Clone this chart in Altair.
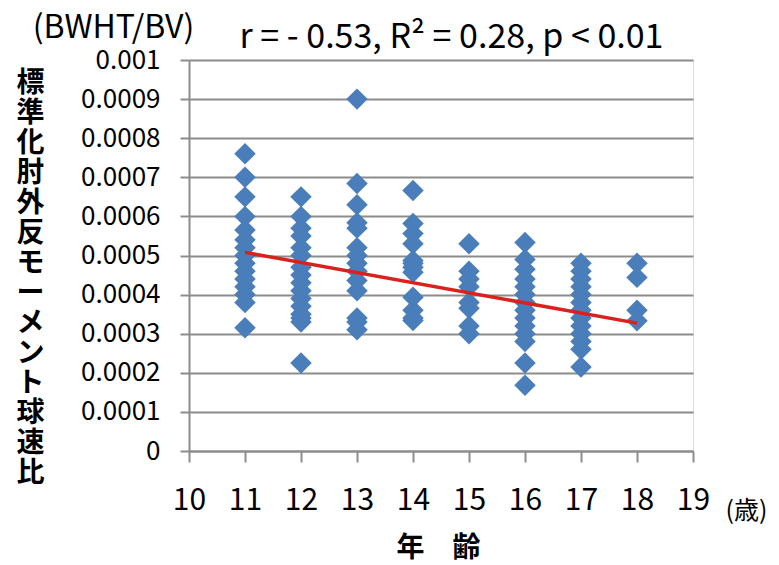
import altair as alt
import pandas as pd

# ---- data ----
age_11 = [0.00076, 0.00070, 0.00065, 0.00060, 0.000565, 0.00054, 0.00052, 0.00050, 0.00048,
          0.00046, 0.00044, 0.00042, 0.00040, 0.00038, 0.000315]
age_12 = [0.00065, 0.00060, 0.00057, 0.00055, 0.00052, 0.00050, 0.00047, 0.00045, 0.00043,
          0.00041, 0.00039, 0.00037, 0.00035, 0.00034, 0.00033, 0.000225]
age_13 = [0.00090, 0.000684, 0.00063, 0.000584, 0.00057, 0.00052, 0.00050, 0.00048, 0.00046,
          0.000436, 0.00041, 0.00034, 0.00033, 0.00031]
age_14 = [0.000666, 0.000582, 0.000556, 0.00053, 0.000487, 0.00048, 0.00047, 0.000457,
          0.000393, 0.00036, 0.00034, 0.000334]
age_15 = [0.00053, 0.00046, 0.00044, 0.00042, 0.00038, 0.000365, 0.00032, 0.00030]
age_16 = [0.000533, 0.00049, 0.000465, 0.00044, 0.00042, 0.00040, 0.00038, 0.00036, 0.00034,
          0.00032, 0.00030, 0.00028, 0.000225, 0.000168]
age_17 = [0.00048, 0.00046, 0.00044, 0.00042, 0.00040, 0.00038, 0.00036, 0.00034, 0.00032,
          0.00030, 0.00028, 0.00026, 0.000215]
age_18 = [0.00048, 0.000444, 0.00036, 0.000333]

ages = [11, 12, 13, 14, 15, 16, 17, 18]
columns = [age_11, age_12, age_13, age_14, age_15, age_16, age_17, age_18]

trend_x = [11, 18]
trend_y = [0.000508, 0.000327]

x_ticks = [10, 11, 12, 13, 14, 15, 16, 17, 18, 19]
y_ticks = [0, 0.0001, 0.0002, 0.0003, 0.0004, 0.0005, 0.0006, 0.0007, 0.0008, 0.0009, 0.001]

y_title = list("標準化肘外反モーメント球速比")
x_title = "年　齢"
unit_title = "(歳)"
y_unit = "(BWHT/BV)"
stats = "r = - 0.53, R² = 0.28, p < 0.01"

rows = []
for a, col in zip(ages, columns):
    for v in col:
        rows.append({"age": a, "value": v})
df = pd.DataFrame(rows)
trend_df = pd.DataFrame({"age": trend_x, "value": trend_y})

FONT = "Noto Sans CJK JP"
GRAY = "#8c8c8c"

xscale = alt.Scale(domain=[10, 19], nice=False, zero=False)
yscale = alt.Scale(domain=[0, 0.001], nice=False, zero=True)

points = alt.Chart(df).mark_point(
    shape="diamond", filled=True, size=460, color="#4A7EBB", opacity=1
).encode(
    x=alt.X("age:Q", scale=xscale, axis=alt.Axis(
        values=x_ticks, title=x_title, grid=False,
        domain=True, domainColor=GRAY, domainWidth=2,
        ticks=True, tickSize=11, tickColor=GRAY, tickWidth=2,
        labelFontSize=30, labelPadding=23, labelColor="black", labelFont=FONT,
        labelFlush=False, labelOverlap=False,
        titleFont=FONT, titleFontSize=28, titleFontWeight="bold", titleColor="black",
        titleX=249, titleY=97, titleAlign="center", titleBaseline="middle",
    )),
    y=alt.Y("value:Q", scale=yscale, axis=alt.Axis(
        values=y_ticks, labelExpr="format(datum.value, '.4~f')",
        title=y_title, grid=True, gridColor=GRAY, gridWidth=2,
        domain=True, domainColor=GRAY, domainWidth=2,
        ticks=True, tickSize=9, tickColor=GRAY, tickWidth=2,
        labelFontSize=26, labelPadding=20, labelColor="black", labelFont=FONT,
        labelFlush=False, labelOverlap=False,
        titleFont=FONT, titleFontSize=28, titleFontWeight="bold", titleColor="black",
        titleAngle=0, titleAlign="center", titleBaseline="top",
        titleX=-159, titleY=9, titleLineHeight=30,
    )),
)

line = alt.Chart(trend_df).mark_line(color="#D9221E", strokeWidth=3.5).encode(
    x=alt.X("age:Q", scale=xscale, axis=alt.Axis(
        orient="top", title=stats, grid=False, domain=False, ticks=False, labels=False,
        titleFont=FONT, titleFontSize=34, titleFontWeight="normal", titleColor="black",
        titleX=262, titleY=-13, titleAlign="center", titleBaseline="alphabetic",
    )),
    y=alt.Y("value:Q", scale=yscale, axis=alt.Axis(
        orient="right", title=y_unit, grid=False, domain=False, ticks=False, labels=False,
        titleFont=FONT, titleFontSize=32, titleFontWeight="normal", titleColor="black",
        titleAngle=0, titleX=-580, titleY=-33, titleAlign="center", titleBaseline="middle",
    )),
)

chart = alt.layer(points, line).resolve_scale(
    x="independent", y="independent"
).properties(
    width=504, height=391,
    autosize=alt.AutoSizeParams(type="none"),
    padding={"left": 189, "top": 60, "right": 86, "bottom": 114},
    title=alt.TitleParams(
        unit_title, orient="right", anchor="end", frame="group", angle=0,
        offset=-5, dy=60, align="center", baseline="middle",
        fontSize=25, fontWeight="normal", font=FONT, color="black",
    ),
).configure_view(stroke=None).configure(background="white")

chart.save("out.html", embed_options={"renderer": "svg", "actions": False})
